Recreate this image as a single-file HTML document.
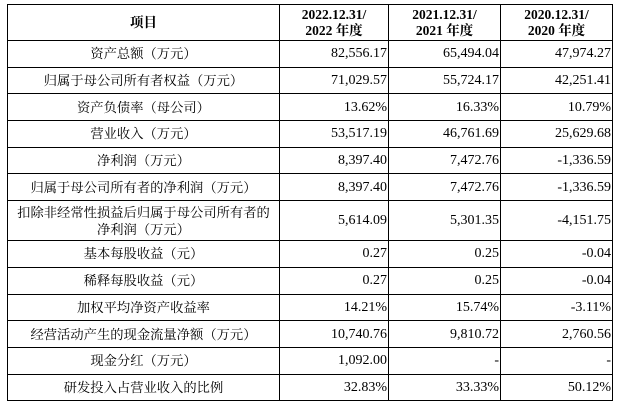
<!DOCTYPE html>
<html><head><meta charset="utf-8"><style>
html,body{margin:0;padding:0;background:#fff;width:619px;height:408px;overflow:hidden}
table{position:absolute;left:7px;top:4px;border-collapse:collapse;table-layout:fixed;font-family:"Liberation Serif","Noto Serif CJK SC",serif;font-size:13.3px;color:#000}
td{border:1px solid #000;padding:0 2px;line-height:15px;white-space:nowrap}
td.l{text-align:center}
td.n{text-align:right;padding-right:1px;font-size:14px}
tr.h td{font-weight:bold;text-align:center;height:35px;line-height:16px;font-size:13.5px}
tr.r td{height:25.7px}
tr.d td{height:39px}
</style></head><body>
<table>
<colgroup><col style="width:272px"><col style="width:109px"><col style="width:112px"><col style="width:112px"></colgroup>
<tr class="h"><td>项目</td><td>2022.12.31/<br>2022 年度</td><td>2021.12.31/<br>2021 年度</td><td>2020.12.31/<br>2020 年度</td></tr>
<tr class="r"><td class="l">资产总额（万元）</td><td class="n">82,556.17</td><td class="n">65,494.04</td><td class="n">47,974.27</td></tr>
<tr class="r"><td class="l">归属于母公司所有者权益（万元）</td><td class="n">71,029.57</td><td class="n">55,724.17</td><td class="n">42,251.41</td></tr>
<tr class="r"><td class="l">资产负债率（母公司）</td><td class="n">13.62%</td><td class="n">16.33%</td><td class="n">10.79%</td></tr>
<tr class="r"><td class="l">营业收入（万元）</td><td class="n">53,517.19</td><td class="n">46,761.69</td><td class="n">25,629.68</td></tr>
<tr class="r"><td class="l">净利润（万元）</td><td class="n">8,397.40</td><td class="n">7,472.76</td><td class="n">-1,336.59</td></tr>
<tr class="r"><td class="l">归属于母公司所有者的净利润（万元）</td><td class="n">8,397.40</td><td class="n">7,472.76</td><td class="n">-1,336.59</td></tr>
<tr class="d"><td class="l" style="line-height:17px">扣除非经常性损益后归属于母公司所有者的<br>净利润（万元）</td><td class="n">5,614.09</td><td class="n">5,301.35</td><td class="n">-4,151.75</td></tr>
<tr class="r"><td class="l">基本每股收益（元）</td><td class="n">0.27</td><td class="n">0.25</td><td class="n">-0.04</td></tr>
<tr class="r"><td class="l">稀释每股收益（元）</td><td class="n">0.27</td><td class="n">0.25</td><td class="n">-0.04</td></tr>
<tr class="r"><td class="l">加权平均净资产收益率</td><td class="n">14.21%</td><td class="n">15.74%</td><td class="n">-3.11%</td></tr>
<tr class="r"><td class="l">经营活动产生的现金流量净额（万元）</td><td class="n">10,740.76</td><td class="n">9,810.72</td><td class="n">2,760.56</td></tr>
<tr class="r"><td class="l">现金分红（万元）</td><td class="n">1,092.00</td><td class="n">-</td><td class="n">-</td></tr>
<tr class="r"><td class="l">研发投入占营业收入的比例</td><td class="n">32.83%</td><td class="n">33.33%</td><td class="n">50.12%</td></tr>
</table>
</body></html>
